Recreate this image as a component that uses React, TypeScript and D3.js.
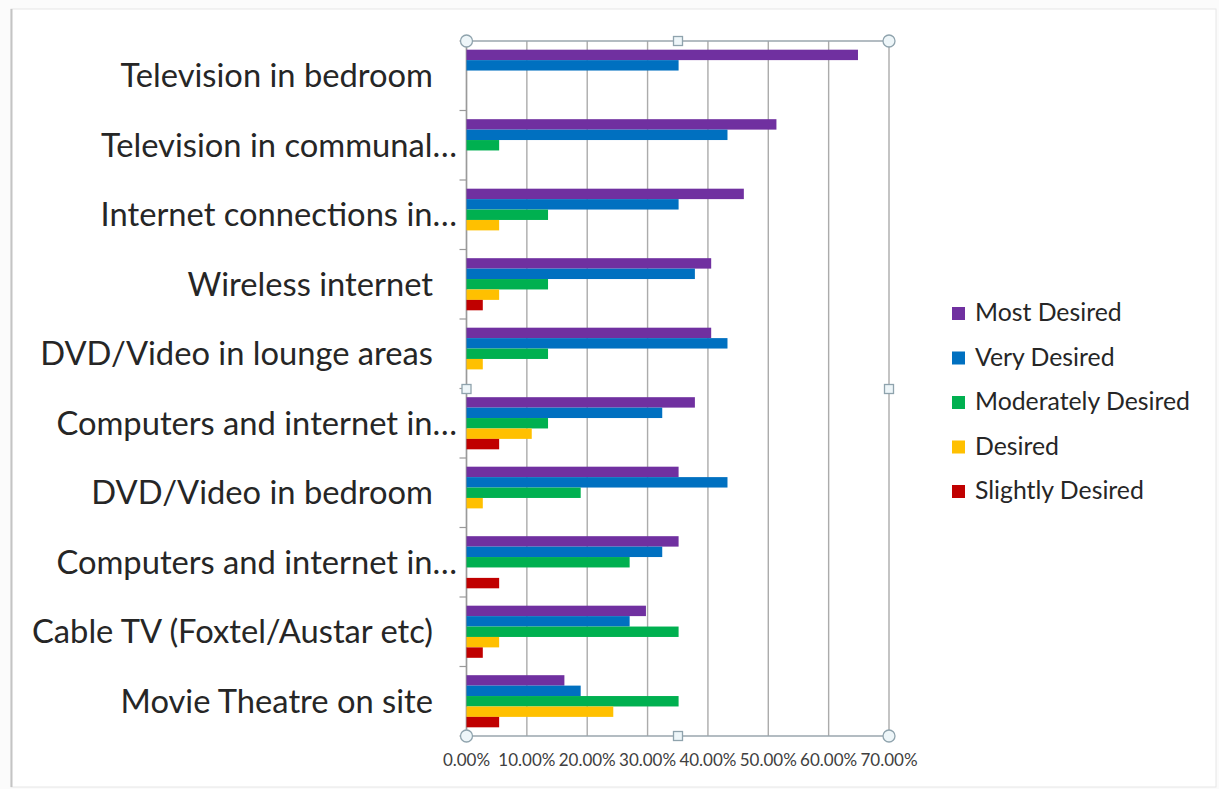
import React from "react";
import * as d3 from "d3";

const categories = [
  "Television in bedroom",
  "Television in communal…",
  "Internet connections in…",
  "Wireless internet",
  "DVD/Video in lounge areas",
  "Computers and internet in…",
  "DVD/Video in bedroom",
  "Computers and internet in…",
  "Cable TV (Foxtel/Austar etc)",
  "Movie Theatre on site",
];

const seriesNames = ["Most Desired", "Very Desired", "Moderately Desired", "Desired", "Slightly Desired"];
const seriesColors = ["#7030A0", "#0070C0", "#00B050", "#FFC000", "#C00000"];

// values in percent, one array per series, in category order
const mostDesired = [64.86, 51.35, 45.95, 40.54, 40.54, 37.84, 35.14, 35.14, 29.73, 16.22];
const veryDesired = [35.14, 43.24, 35.14, 37.84, 43.24, 32.43, 43.24, 32.43, 27.03, 18.92];
const moderatelyDesired = [0, 5.41, 13.51, 13.51, 13.51, 13.51, 18.92, 27.03, 35.14, 35.14];
const desired = [0, 0, 5.41, 5.41, 2.7, 10.81, 2.7, 0, 5.41, 24.32];
const slightlyDesired = [0, 0, 0, 2.7, 0, 5.41, 0, 5.41, 2.7, 5.41];

const xTicks = [0, 10, 20, 30, 40, 50, 60, 70];

const seriesValues = [mostDesired, veryDesired, moderatelyDesired, desired, slightlyDesired];

export default function App() {
  const W = 1219;
  const H = 789;
  const left = 466.5;
  const right = 889;
  const top = 41;
  const bottom = 736;

  const x = d3.scaleLinear().domain([0, 70]).range([left, right]);
  const y = d3.scaleBand<number>().domain(d3.range(categories.length)).range([top, bottom]).padding(0);
  const bw = y.bandwidth();
  const pad = bw * 0.125;
  const yi = d3.scaleBand<number>().domain(d3.range(seriesNames.length)).range([pad, bw - pad]).padding(0);

  const font = "Lato, 'Open Sans', sans-serif";
  const gridColor = "#ababab";
  const selColor = "#9aa6ae";

  const handleCircle = (cx: number, cy: number, k: string) => (
    <circle key={k} cx={cx} cy={cy} r={6} fill="#eef6f9" stroke="#8fa3ad" strokeWidth={1.3} />
  );
  const handleSquare = (cx: number, cy: number, k: string) => (
    <rect key={k} x={cx - 4.5} y={cy - 4.5} width={9} height={9} fill="#eef6f9" stroke="#8fa3ad" strokeWidth={1.3} />
  );

  const midX = 678;
  const midY = 389;

  return (
    <svg width={W} height={H} style={{ position: "absolute", left: 0, top: 0, background: "#ffffff" }}>
      <rect x={0} y={0} width={W} height={H} fill="#fbfbfb" />
      <rect x={11} y={9} width={1205} height={778} fill="#ffffff" stroke="#e6e6e6" strokeWidth={1} />
      <line x1={11.5} y1={9} x2={11.5} y2={787} stroke="#c4c4c4" strokeWidth={2} />

      {/* gridlines */}
      {xTicks.map((t) => (
        <line key={"g" + t} x1={x(t)} x2={x(t)} y1={top} y2={bottom} stroke={gridColor} strokeWidth={1.4} />
      ))}

      {/* selection border */}
      <line x1={left} x2={right} y1={top} y2={top} stroke={selColor} strokeWidth={1.4} />
      <line x1={left} x2={right} y1={bottom} y2={bottom} stroke={selColor} strokeWidth={1.4} />

      {/* category axis line and ticks */}
      <line x1={left} x2={left} y1={top} y2={bottom} stroke="#9a9a9a" strokeWidth={1.4} />
      {d3.range(categories.length + 1).map((i) => {
        const yy = i < categories.length ? (y(i) as number) : bottom;
        return <line key={"t" + i} x1={left - 7} x2={left} y1={yy} y2={yy} stroke="#9a9a9a" strokeWidth={1.2} />;
      })}

      {/* bars */}
      {categories.map((c, ci) =>
        seriesValues.map((vals, si) => {
          const v = vals[ci];
          if (!v) return null;
          return (
            <rect
              key={ci + "-" + si}
              x={x(0)}
              y={(y(ci) as number) + (yi(si) as number)}
              width={x(v) - x(0)}
              height={yi.bandwidth()}
              fill={seriesColors[si]}
            />
          );
        })
      )}

      {/* category labels */}
      {categories.map((c, ci) => {
        const cy = (y(ci) as number) + bw / 2;
        const truncated = c.endsWith("…");
        return (
          <text
            key={"l" + ci}
            x={truncated ? 457 : 433}
            y={cy + 11.5}
            textAnchor="end"
            fontFamily={font}
            fontSize={32.7}
            fill="#262626"
          >
            {c}
          </text>
        );
      })}

      {/* x tick labels */}
      {xTicks.map((t) => (
        <text
          key={"xl" + t}
          x={x(t)}
          y={765.5}
          textAnchor="middle"
          fontFamily={font}
          fontSize={17}
          fill="#404040"
        >
          {t.toFixed(2) + "%"}
        </text>
      ))}

      {/* selection handles */}
      {handleCircle(left, top, "c1")}
      {handleCircle(right, top, "c2")}
      {handleCircle(left, bottom, "c3")}
      {handleCircle(right, bottom, "c4")}
      {handleSquare(midX, top, "s1")}
      {handleSquare(midX, bottom, "s2")}
      {handleSquare(left, midY, "s3")}
      {handleSquare(right, midY, "s4")}

      {/* legend */}
      {seriesNames.map((s, i) => {
        const by = 321 + i * 44.5;
        return (
          <g key={"lg" + i}>
            <rect x={952} y={by - 14} width={13} height={13} fill={seriesColors[i]} />
            <text x={975} y={by} fontFamily={font} fontSize={24.8} fill="#262626">
              {s}
            </text>
          </g>
        );
      })}
    </svg>
  );
}
